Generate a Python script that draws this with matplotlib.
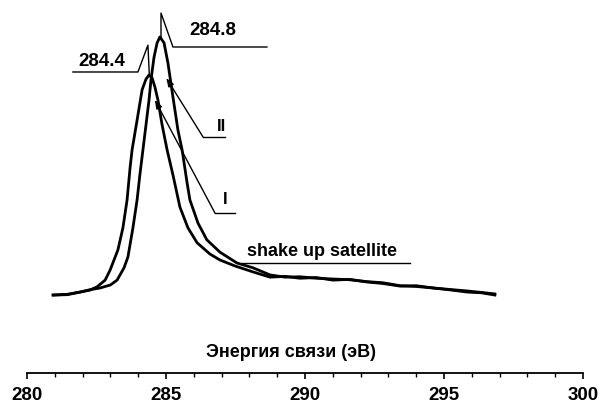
import matplotlib
matplotlib.use("Agg")
import matplotlib.pyplot as plt
from matplotlib.ticker import MultipleLocator

# spectrum I (peak 284.4 eV)
energy_I = [280.94, 281.45, 281.91, 282.25, 282.52, 282.81, 282.99, 283.27, 283.45,
            283.60, 283.71, 283.78, 283.96, 284.14, 284.28, 284.39, 284.50, 284.60,
            284.71, 284.86, 285.04, 285.25, 285.50, 285.79, 286.12, 286.58, 286.94,
            287.48, 288.13, 288.74, 289.30, 289.82, 290.40, 291.01, 291.60, 292.23,
            292.80, 293.42, 294.00, 294.60, 295.20, 295.83, 296.35, 296.83]
counts_I = [20.9, 21.0, 21.7, 22.2, 23.1, 24.9, 27.6, 33.0, 38.9,
            46.4, 55.2, 59.8, 67.8, 75.9, 78.8, 79.9, 79.1, 76.7,
            73.2, 66.5, 59.8, 53.1, 44.5, 38.9, 34.9, 31.9, 30.3,
            28.7, 27.1, 25.7, 25.9, 25.4, 25.6, 24.9, 25.1, 24.4,
            24.0, 23.3, 23.4, 22.8, 22.3, 21.7, 21.5, 20.9]

# spectrum II (peak 284.8 eV)
energy_II = [280.94, 281.45, 281.91, 282.25, 282.63, 283.00, 283.24, 283.49, 283.63,
             283.81, 283.96, 284.06, 284.17, 284.28, 284.39, 284.46, 284.57, 284.68,
             284.78, 284.93, 285.07, 285.25, 285.43, 285.58, 285.76, 285.86, 286.15,
             286.47, 286.94, 287.55, 288.13, 288.74, 289.28, 289.82, 290.40, 291.01,
             291.60, 292.23, 292.80, 293.42, 294.00, 294.60, 295.20, 295.83, 296.35,
             296.83]
counts_II = [20.9, 21.1, 21.7, 22.3, 22.8, 23.6, 24.9, 28.2, 31.1,
             38.9, 46.4, 53.1, 59.8, 66.5, 73.2, 78.6, 84.7, 88.5,
             90.1, 88.5, 83.1, 74.0, 65.1, 59.8, 50.9, 46.4, 40.2,
             35.7, 32.4, 29.5, 28.2, 26.3, 25.7, 25.8, 25.4, 25.2,
             25.0, 24.5, 24.2, 23.4, 23.2, 22.8, 22.4, 22.0, 21.6,
             21.2]

x_ticks = [280, 285, 290, 295, 300]
xlabel = "Энергия связи (эВ)"

plt.rcParams["font.family"] = ["Liberation Sans", "DejaVu Sans"]
plt.rcParams["font.weight"] = "bold"

fig = plt.figure(figsize=(6.03, 4.07), dpi=100)
ax = fig.add_axes([27 / 603, 34 / 407, 556 / 603, 373 / 407])

ax.plot(energy_I, counts_I, color="black", lw=2.0, solid_joinstyle="round")
ax.plot(energy_II, counts_II, color="black", lw=2.0, solid_joinstyle="round")

ax.set_xlim(280, 300)
ax.set_ylim(0, 100)
for s in ["left", "right", "top"]:
    ax.spines[s].set_visible(False)
ax.spines["bottom"].set_linewidth(1.3)
ax.set_yticks([])
ax.set_xticks(x_ticks)
ax.xaxis.set_minor_locator(MultipleLocator(1))
ax.tick_params(axis="x", which="major", direction="out", length=4, width=1.2,
               labelsize=13.5, pad=6)
ax.tick_params(axis="x", which="minor", direction="out", length=3, width=1.0)
for lab in ax.get_xticklabels():
    lab.set_fontweight("bold")

ax.text(289.5, 5.6, xlabel, ha="center", va="center", fontsize=13, fontweight="bold")

# peak labels with leader lines
lk = dict(color="black", lw=1.0, clip_on=False)
ax.plot([281.65, 283.99, 284.35, 284.40], [80.7, 80.7, 87.9, 79.9], **lk)
ax.text(282.68, 83.6, "284.4", ha="center", va="center", fontsize=13.5, fontweight="bold")
ax.plot([284.82, 284.82, 285.25, 288.63], [90.1, 96.5, 87.4, 87.4], **lk)
ax.text(286.69, 91.7, "284.8", ha="center", va="center", fontsize=13.5, fontweight="bold")

# curve labels with arrows
arr = dict(arrowstyle="-|>,head_length=0.5,head_width=0.18", color="black", lw=1.0,
           shrinkA=0, shrinkB=0)
ax.annotate("", xy=(285.01, 79.1), xytext=(286.33, 63.3), arrowprops=arr)
ax.plot([286.33, 287.12], [63.3, 63.3], **lk)
ax.text(286.98, 66.2, "II", ha="center", va="center", fontsize=12, fontweight="bold")
ax.annotate("", xy=(284.60, 73.2), xytext=(286.76, 42.9), arrowprops=arr)
ax.plot([286.76, 287.48], [42.9, 42.9], **lk)
ax.text(287.12, 46.4, "I", ha="center", va="center", fontsize=12, fontweight="bold")

ax.text(290.61, 32.7, "shake up satellite", ha="center", va="center",
        fontsize=13, fontweight="bold")
ax.plot([287.73, 293.78], [29.5, 29.5], **lk)

fig.savefig("out.png", dpi=100)
